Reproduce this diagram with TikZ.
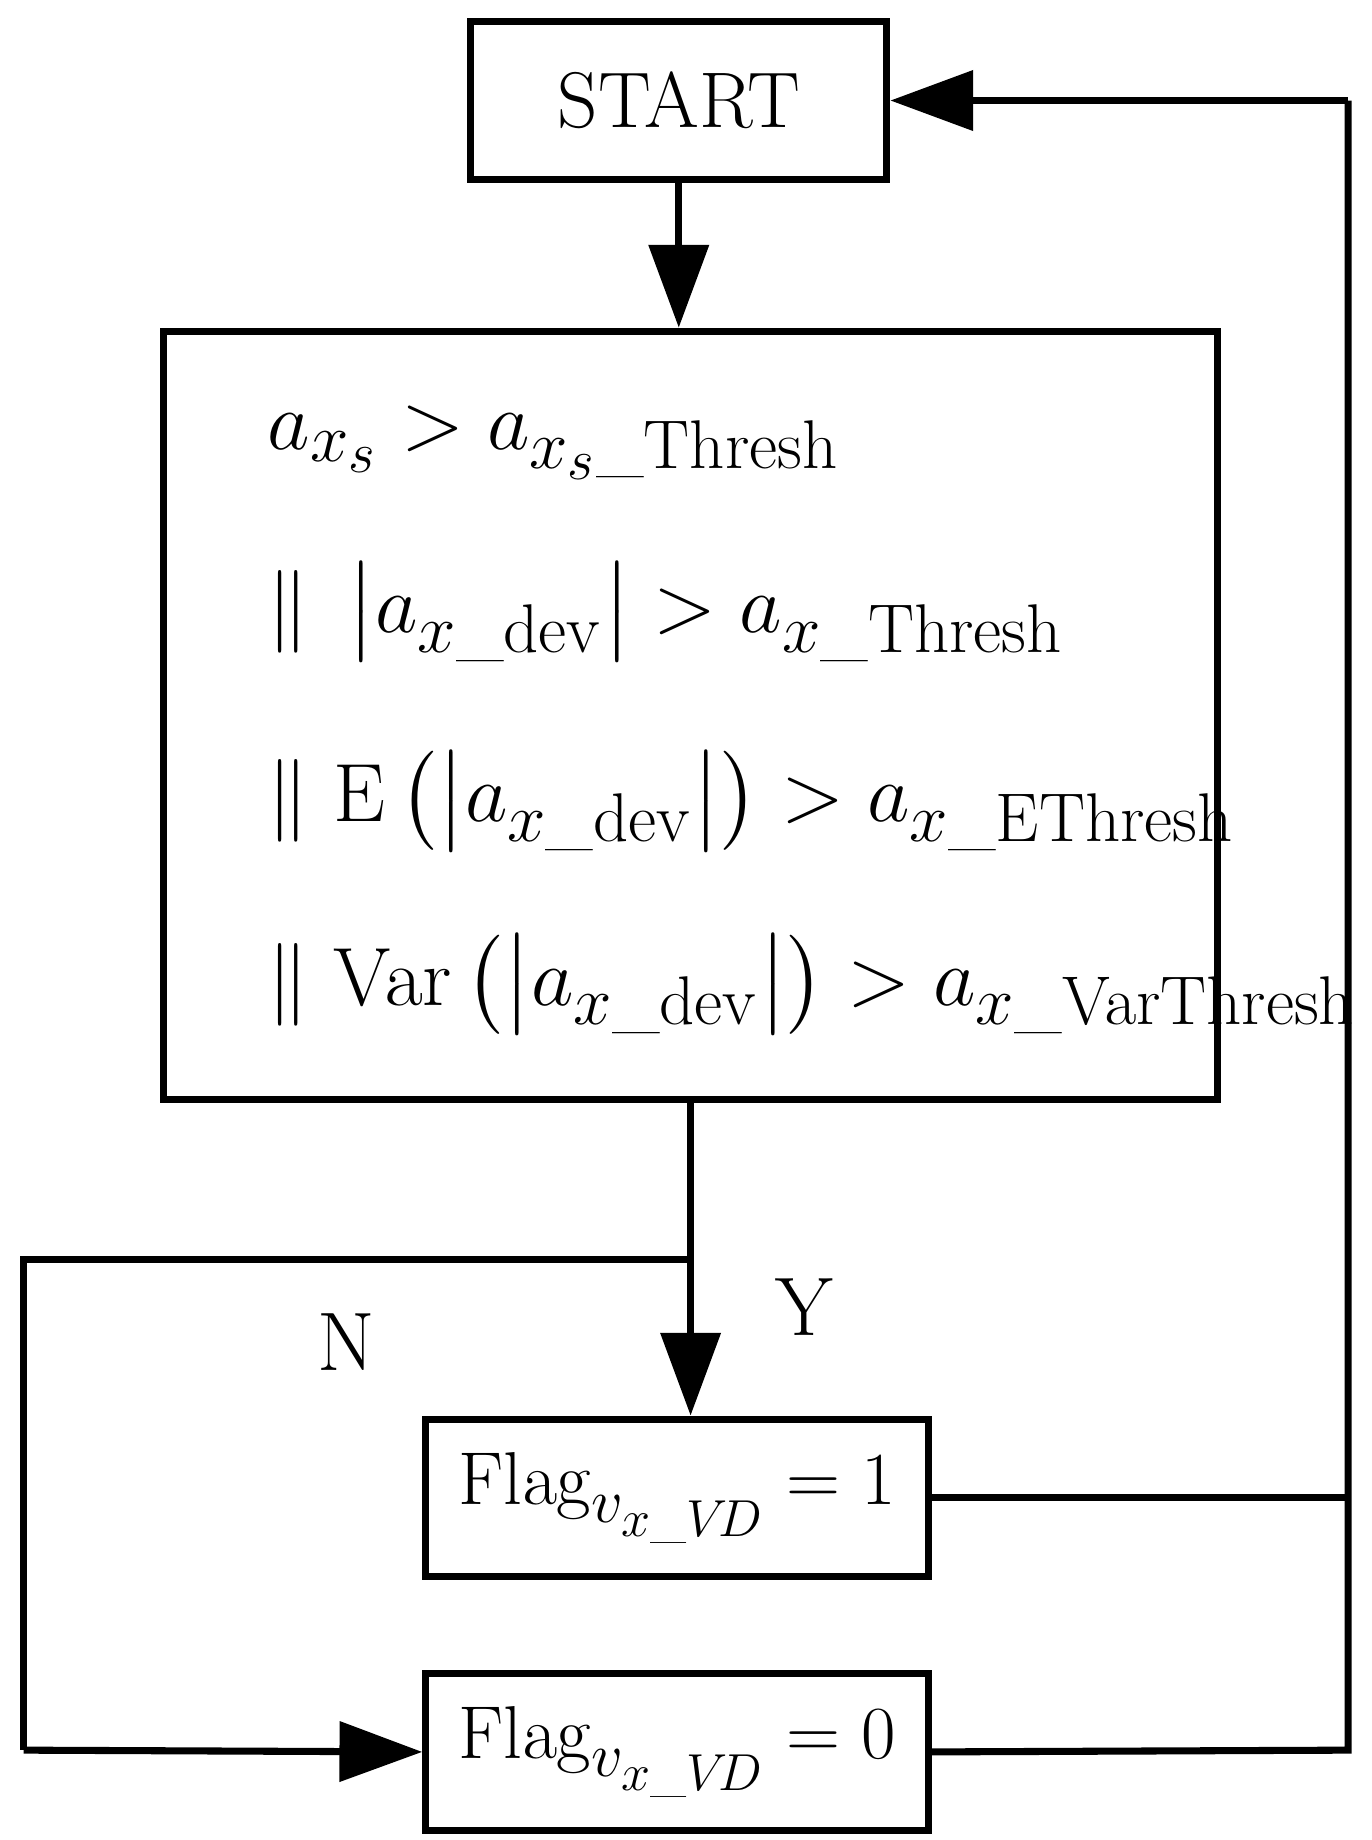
\documentclass[tikz,border=0pt]{standalone}
\usepackage{amsmath}
\usepackage{graphicx}
\usetikzlibrary{arrows.meta}
\newcommand{\us}{\text{\_}}
\begin{document}
\begin{tikzpicture}[x=0.02cm,y=-0.02cm,
  box/.style={draw,line width=3.4pt,inner sep=0pt},
  con/.style={line width=3.4pt},
  arr/.style={con,-{Triangle[length=1.4cm,width=1cm]}},
  lbl/.style={font=\fontsize{40}{48}\selectfont},
  mth/.style={font=\Huge}]
\useasboundingbox (0,0) rectangle (1160,1556);
\node[box,minimum width=7.04cm,minimum height=2.68cm,font=\fontsize{38}{44}\selectfont] (start) at (574,85) {START};
\node[box,minimum width=17.84cm,minimum height=13cm] (main) at (584,605) {};
\node[box,mth,minimum width=8.5cm,minimum height=2.66cm] (f1) at (572.5,1266.5) {\scalebox{1.45}{$\mathrm{Flag}_{v_{x\us V\!D}}=1$}};
\node[box,mth,minimum width=8.5cm,minimum height=2.66cm] (f0) at (572.5,1481.5) {\scalebox{1.45}{$\mathrm{Flag}_{v_{x\us V\!D}}=0$}};
\node[mth,anchor=base west] (l1) at (220,380) {\scalebox{1.6}{$a_{x_s}>a_{x_s\us\mathrm{Thresh}}$}};
\node[mth,anchor=base west] (l2) at (220,535) {\scalebox{1.6}{$\|\ \left|a_{x\us\mathrm{dev}}\right|>a_{x\us\mathrm{Thresh}}$}};
\node[mth,anchor=base west] (l3) at (220,695) {\scalebox{1.6}{$\|\ \mathrm{E}\left(\left|a_{x\us\mathrm{dev}}\right|\right)>a_{x\us\mathrm{EThresh}}$}};
\node[mth,anchor=base west] (l4) at (220,850) {\scalebox{1.6}{$\|\ \mathrm{Var}\left(\left|a_{x\us\mathrm{dev}}\right|\right)>a_{x\us\mathrm{VarThresh}}$}};
\node[lbl] (y) at (680,1105) {Y};
\node[lbl] (n) at (293,1135) {N};
\coordinate (br) at (584,1065);
\coordinate (lt) at (20,1065);
\coordinate (lb) at (20,1480);
\coordinate (rt) at (1140,85);
\coordinate (rb) at (1140,1480);
\draw[arr] (start.south) -- (start.south |- main.north);
\draw[con] (main.south -| br) -- (br);
\draw[arr] (br) -- (br |- f1.north);
\draw[con] (br) -- (lt) -- (lb);
\draw[arr] (lb) -- (f0.west);
\draw[con] (f1.east) -- (f1.east -| rb);
\draw[con] (f0.east) -- (rb) -- (rt);
\draw[arr] (rt) -- (start.east);
\end{tikzpicture}
\end{document}
